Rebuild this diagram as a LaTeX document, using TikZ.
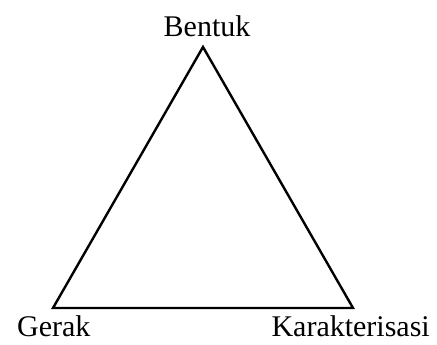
\documentclass[tikz,border=0pt]{standalone}
\usepackage{fontspec}
\setmainfont{Liberation Serif}
\begin{document}
\begin{tikzpicture}[x=1pt,y=1pt,
  lbl/.style={inner sep=0pt,font=\fontsize{30}{32}\selectfont},
  edge/.style={line width=2.4pt,line join=miter}]
\useasboundingbox (0,0) rectangle (437,345);
\coordinate (A) at (203,298);
\coordinate (L) at (53,37);
\coordinate (R) at (353,37);
\draw[edge] (A) -- (L) -- (R) -- cycle;
\node[lbl,anchor=base] (bentuk) at (207,308) {Bentuk};
\node[lbl,anchor=base west] (gerak) at (17,8) {Gerak};
\node[lbl,anchor=base east] (karak) at (430,8) {Karakterisasi};
\end{tikzpicture}
\end{document}
